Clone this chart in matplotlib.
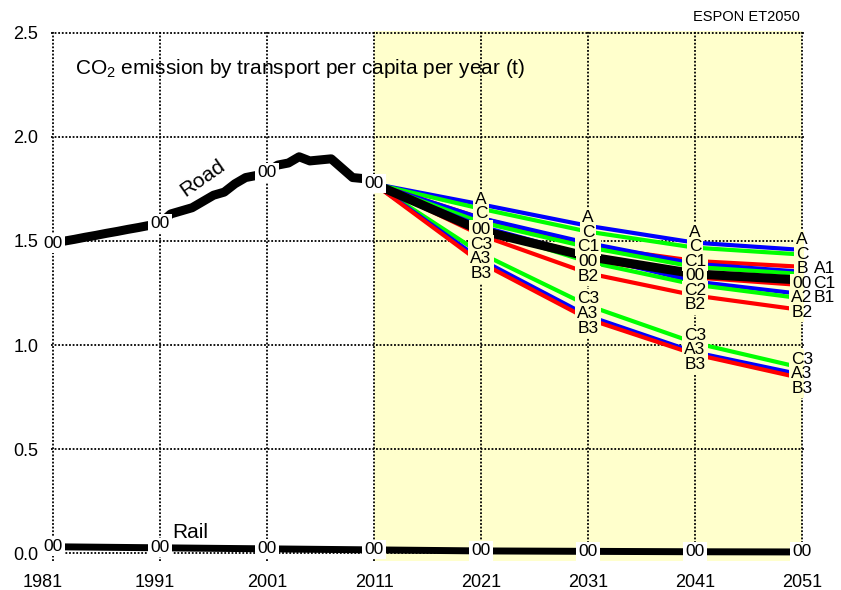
import matplotlib

matplotlib.use("Agg")

import matplotlib.pyplot as plt
import matplotlib.transforms as mtransforms
import numpy as np

plt.rcParams["font.family"] = ["Liberation Sans", "DejaVu Sans"]
plt.rcParams["mathtext.fontset"] = "custom"
plt.rcParams["mathtext.rm"] = "Liberation Sans"
plt.rcParams["mathtext.it"] = "Liberation Sans:italic"

# historical road emissions, one value per year
hist_years = list(range(1981, 2012))
road_hist = [
    1.490, 1.499, 1.508, 1.518, 1.527, 1.537, 1.546, 1.556, 1.565, 1.575,
    1.585, 1.630, 1.645, 1.660, 1.690, 1.720, 1.735, 1.775, 1.805, 1.815,
    1.830, 1.865, 1.875, 1.905, 1.885, 1.890, 1.895, 1.850, 1.805, 1.800,
    1.775,
]

decades = [1981, 1991, 2001, 2011, 2021, 2031, 2041, 2051]
rail = [0.030, 0.025, 0.020, 0.015, 0.010, 0.008, 0.006, 0.005]

# scenario projections
scen_years = [2011, 2021, 2031, 2041, 2051]
scen_A = [1.775, 1.676, 1.573, 1.492, 1.457]
scen_C = [1.775, 1.655, 1.545, 1.468, 1.435]
scen_B = [1.775, 1.610, 1.475, 1.404, 1.376]
scen_A1 = [1.775, 1.610, 1.490, 1.390, 1.352]
scen_C1 = [1.775, 1.590, 1.470, 1.375, 1.341]
scen_B1 = [1.775, 1.545, 1.415, 1.325, 1.288]
scen_00 = [1.775, 1.550, 1.425, 1.342, 1.312]
scen_A2 = [1.775, 1.570, 1.430, 1.305, 1.245]
scen_C2 = [1.775, 1.560, 1.400, 1.290, 1.224]
scen_B2 = [1.775, 1.528, 1.345, 1.238, 1.168]
scen_C3 = [1.775, 1.440, 1.190, 1.010, 0.890]
scen_A3 = [1.775, 1.410, 1.140, 0.965, 0.857]
scen_B3 = [1.775, 1.395, 1.125, 0.955, 0.840]

# which scenario names are written at each decade column
labels_2021 = ["A", "C", "00", "C3", "A3", "B3"]
labels_2031 = ["A", "C", "C1", "00", "B2", "C3", "A3", "B3"]
labels_2041 = ["A", "C", "C1", "00", "C2", "B2", "C3", "A3", "B3"]
labels_2051 = ["A", "C", "B", "00", "A2", "B2", "C3", "A3", "B3"]
side_2051 = [("A1", "B"), ("C1", "00"), ("B1", "A2")]

BLUE, GREEN, RED = "#0000ff", "#00ff00", "#ff0000"
YELLOW = "#ffffcc"

scenarios = [
    ("A", BLUE, scen_A), ("C", GREEN, scen_C), ("B", RED, scen_B),
    ("A1", BLUE, scen_A1), ("C1", GREEN, scen_C1), ("B1", RED, scen_B1),
    ("A2", BLUE, scen_A2), ("C2", GREEN, scen_C2), ("B2", RED, scen_B2),
    ("C3", GREEN, scen_C3), ("A3", BLUE, scen_A3), ("B3", RED, scen_B3),
]
values = {name: vals for name, _, vals in scenarios}
values["00"] = scen_00


def stack_labels(vals, gap):
    """Spread sorted (descending) values so neighbours are at least gap apart."""
    clusters = [[v] for v in vals]
    merged = True
    while merged:
        merged = False
        for i in range(len(clusters) - 1):
            a, b = clusters[i], clusters[i + 1]
            a_bottom = np.mean(a) - (len(a) - 1) / 2 * gap
            b_top = np.mean(b) + (len(b) - 1) / 2 * gap
            if a_bottom - b_top < gap:
                clusters[i] = a + b
                del clusters[i + 1]
                merged = True
                break
    pos = []
    for c in clusters:
        top = np.mean(c) + (len(c) - 1) / 2 * gap
        pos += [top - k * gap for k in range(len(c))]
    return pos


fig = plt.figure(figsize=(8.41, 5.90), dpi=100)
ax = fig.add_axes([0.0605, 0.0486, 0.8957, 0.8990])
for s in ax.spines.values():
    s.set_visible(False)

ax.axvspan(2011, 2051, color=YELLOW, zorder=0, lw=0)
ax.set_xlim(1980.8, 2051.2)
ax.set_ylim(-0.04, 2.51)
ax.set_xticks(decades)
ax.set_yticks(np.arange(0, 2.51, 0.5))
ax.set_yticklabels([f"{v:.1f}" for v in np.arange(0, 2.51, 0.5)])
ax.tick_params(length=0, labelsize=13)
ax.tick_params(axis="y", pad=9)
ax.tick_params(axis="x", pad=9)
ax.grid(True, color="black", linestyle=(0, (1, 1)), linewidth=1.3, zorder=1)
ax.set_axisbelow(True)

# the first two year labels sit a little left of their grid lines
for lab, dx in zip(ax.get_xticklabels()[:2], (-10, -5)):
    shift = mtransforms.ScaledTranslation(dx / 100, 0, fig.dpi_scale_trans)
    lab.set_transform(lab.get_transform() + shift)

# scenario lines, baseline on top
for name, color, vals in scenarios:
    ax.plot(scen_years, vals, color=color, lw=3.0, zorder=2, solid_capstyle="butt")
ax.plot(scen_years, scen_00, color="black", lw=6.5, zorder=3, solid_capstyle="butt")

# history
ax.plot(hist_years, road_hist, color="black", lw=6.5, zorder=3, solid_capstyle="butt")
ax.plot(decades, rail, color="black", lw=5.0, zorder=3, solid_capstyle="butt")

white_box = dict(boxstyle="square,pad=0.12", facecolor="white", edgecolor="none")
yellow_box = dict(boxstyle="square,pad=0.12", facecolor=YELLOW, edgecolor="none")

for yr, v in zip(hist_years, road_hist):
    if yr in decades:
        ax.text(yr, v, "00", ha="center", va="center", fontsize=12.5,
                bbox=white_box, zorder=5)
for yr, v in zip(decades, rail):
    ax.text(yr, v, "00", ha="center", va="center", fontsize=12.5,
            bbox=white_box, zorder=5)

gap = 0.07
for yr, names in [(2021, labels_2021), (2031, labels_2031),
                  (2041, labels_2041), (2051, labels_2051)]:
    idx = scen_years.index(yr)
    order = sorted(names, key=lambda n: -values[n][idx])
    pos = stack_labels([values[n][idx] for n in order], gap)
    placed = dict(zip(order, pos))
    for n in order:
        if yr == 2051:
            # yellow backing only inside the axes, text itself unclipped
            ax.text(yr, placed[n], n, ha="center", va="center", fontsize=12.5,
                    color="none", bbox=yellow_box, zorder=4, clip_on=True)
            ax.text(yr, placed[n], n, ha="center", va="center", fontsize=12.5,
                    zorder=5)
        else:
            ax.text(yr, placed[n], n, ha="center", va="center", fontsize=12.5,
                    bbox=yellow_box, zorder=5)
    if yr == 2051:
        for extra, anchor in side_2051:
            ax.annotate(extra, (yr, placed[anchor]), xytext=(16, 0),
                        textcoords="offset points", ha="center", va="center",
                        fontsize=12.5, zorder=5)

ax.text(1995, 1.80, "Road", rotation=35, ha="center", va="center", fontsize=15)
ax.text(1993.8, 0.10, "Rail", ha="center", va="center", fontsize=15)

ax.text(0.032, 0.930, "CO$_2$ emission by transport per capita per year (t)",
        transform=ax.transAxes, ha="left", va="center", fontsize=15)
fig.text(0.951, 0.971, "ESPON ET2050", ha="right", va="center", fontsize=10.5)

fig.savefig("out.png", dpi=100)
